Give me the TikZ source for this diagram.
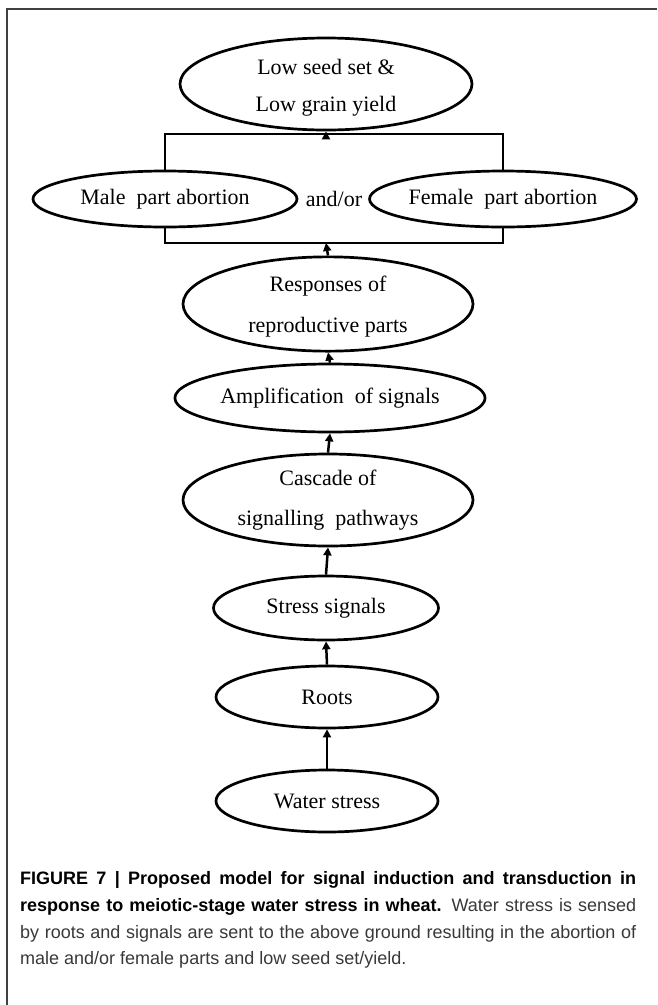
\documentclass[tikz,border=0pt]{standalone}
\usepackage{fontspec}
\setmainfont{Liberation Serif}
\newfontfamily\capfont{Liberation Sans}
\usetikzlibrary{shapes.geometric,arrows.meta}
\begin{document}
\begin{tikzpicture}[x=1pt,y=-1pt,
  oval/.style={ellipse,draw,line width=2.7pt,inner sep=0pt,align=center,font=\fontsize{22}{26}\selectfont},
  link/.style={line width=2.5pt,-{Triangle[length=8pt,width=8pt]}},
  brk/.style={line width=1.9pt},
  captxt/.style={anchor=base west,inner sep=0pt,font=\capfont\fontsize{18}{22}\selectfont}]
\useasboundingbox (0,0) rectangle (657,1005);
\draw[line width=1.6pt,black!75] (7,1005) -- (7,9) -- (657,9);
\node[oval,minimum width=292pt,minimum height=92pt] (top) at (326,84) {\rule{0pt}{23pt}Low seed set \&\\[11pt]Low grain yield};
\node[oval,minimum width=264pt,minimum height=56pt] (male) at (165,199) {Male\ \ part abortion};
\node[oval,minimum width=264pt,minimum height=56pt] (female) at (503,199) {Female\ \ part abortion};
\node[font=\fontsize{22}{26}\selectfont,inner sep=0pt] (andor) at (334,199) {and/or};
\node[oval,minimum width=290pt,minimum height=92pt] (resp) at (328,304) {\rule{0pt}{21pt}Responses of\\[15pt]reproductive parts};
\node[oval,minimum width=290pt,minimum height=68pt] (ampl) at (330,398) {Amplification\ \ of signals};
\node[oval,minimum width=290pt,minimum height=92pt] (casc) at (328,500) {Cascade of\\[14pt]signalling\ \ pathways};
\node[oval,minimum width=225pt,minimum height=64pt] (stress) at (326,608) {Stress signals};
\node[oval,minimum width=222pt,minimum height=62pt] (roots) at (327,697) {Roots};
\node[oval,minimum width=222pt,minimum height=62pt] (water) at (327,801) {Water stress};
\coordinate (bt) at (326,134);
\coordinate (bb) at (326,243);
\draw[brk] (male.north) -- (male.north |- bt) -- (female.north |- bt) -- (female.north);
\draw[brk] (male.south) -- (male.south |- bb) -- (female.south |- bb) -- (female.south);
\draw[link] (bt) -- (top.south);
\draw[link] (resp.north) -- (bb);
\draw[link] (ampl.north) -- (resp.south);
\draw[link] (casc.north) -- (ampl.south);
\draw[link] (stress.north) -- (casc.south);
\draw[link] (roots.north) -- (stress.south);
\draw[link] (water.north) -- (roots.south);
\node[captxt] (c1) at (20,884) {\makebox[616pt][s]{\textbf{FIGURE 7 | Proposed model for signal induction and transduction in}}};
\node[captxt] (c2) at (20,911) {\makebox[616pt][s]{\textbf{response to meiotic-stage water stress in wheat.} \textcolor{black!78}{Water stress is sensed}}};
\node[captxt,text=black!78] (c3) at (20,938) {\makebox[616pt][s]{by roots and signals are sent to the above ground resulting in the abortion of}};
\node[captxt,text=black!78] (c4) at (20,964) {male and/or female parts and low seed set/yield.};
\end{tikzpicture}
\end{document}
